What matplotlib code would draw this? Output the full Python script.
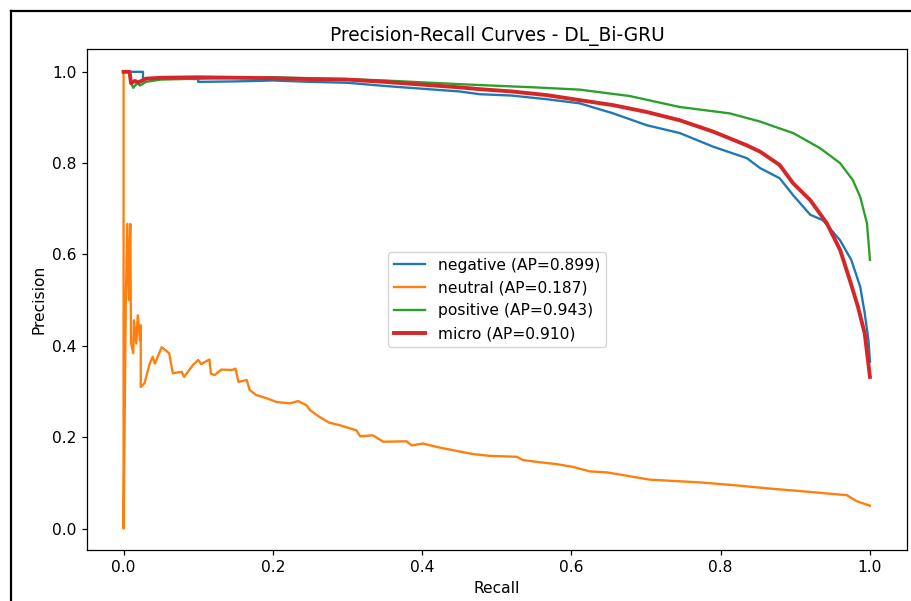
import matplotlib
matplotlib.use("Agg")
import matplotlib.pyplot as plt
from matplotlib.lines import Line2D

# Precision-recall points per class (recall, precision)
neg_recall = [0.0, 0.026, 0.026, 0.05, 0.10, 0.10, 0.15, 0.20, 0.25, 0.30, 0.35, 0.40,
              0.45, 0.477, 0.52, 0.567, 0.611, 0.656, 0.701, 0.745, 0.790, 0.835,
              0.853, 0.879, 0.897, 0.920, 0.937, 0.960, 0.975, 0.987, 0.993, 0.998, 1.0]
neg_precision = [1.0, 1.0, 0.985, 0.986, 0.984, 0.978, 0.979, 0.981, 0.978, 0.976, 0.969, 0.963,
                 0.957, 0.951, 0.948, 0.940, 0.931, 0.909, 0.883, 0.866, 0.836, 0.811,
                 0.789, 0.767, 0.730, 0.687, 0.675, 0.631, 0.588, 0.529, 0.471, 0.412, 0.365]

neu_recall = [0.0, 0.0, 0.003, 0.005, 0.007, 0.009, 0.010, 0.013, 0.014, 0.017, 0.019, 0.022,
              0.023, 0.023, 0.028, 0.035, 0.039, 0.042, 0.051, 0.061, 0.066, 0.078, 0.081,
              0.093, 0.100, 0.104, 0.115, 0.117, 0.122, 0.131, 0.145, 0.150, 0.154, 0.165,
              0.169, 0.178, 0.192, 0.205, 0.223, 0.234, 0.245, 0.250, 0.262, 0.275, 0.290,
              0.312, 0.317, 0.334, 0.348, 0.379, 0.386, 0.401, 0.424, 0.446, 0.468, 0.491,
              0.527, 0.535, 0.558, 0.580, 0.602, 0.625, 0.647, 0.669, 0.705, 0.772, 0.817,
              0.862, 0.906, 0.969, 0.982, 1.0]
neu_precision = [1.0, 0.0, 0.5, 0.667, 0.5, 0.667, 0.406, 0.384, 0.456, 0.405, 0.467, 0.412,
                 0.445, 0.310, 0.318, 0.361, 0.376, 0.361, 0.397, 0.384, 0.340, 0.343, 0.332,
                 0.358, 0.369, 0.360, 0.370, 0.339, 0.336, 0.348, 0.347, 0.350, 0.321, 0.325,
                 0.303, 0.292, 0.285, 0.277, 0.274, 0.279, 0.270, 0.259, 0.245, 0.232, 0.226,
                 0.215, 0.202, 0.204, 0.190, 0.191, 0.182, 0.186, 0.177, 0.170, 0.163, 0.159,
                 0.157, 0.150, 0.145, 0.141, 0.135, 0.125, 0.123, 0.117, 0.107, 0.101, 0.095,
                 0.088, 0.082, 0.073, 0.060, 0.050]

pos_recall = [0.0, 0.008, 0.010, 0.013, 0.018, 0.022, 0.03, 0.05, 0.10, 0.15, 0.20, 0.25,
              0.30, 0.35, 0.40, 0.45, 0.477, 0.55, 0.611, 0.678, 0.745, 0.812, 0.853,
              0.879, 0.897, 0.933, 0.960, 0.977, 0.987, 0.996, 1.0]
pos_precision = [1.0, 1.0, 0.975, 0.965, 0.975, 0.970, 0.978, 0.983, 0.985, 0.987, 0.988, 0.986,
                 0.984, 0.981, 0.977, 0.973, 0.971, 0.966, 0.961, 0.947, 0.923, 0.909, 0.891,
                 0.876, 0.866, 0.833, 0.800, 0.763, 0.726, 0.668, 0.588]

micro_recall = [0.0, 0.008, 0.010, 0.015, 0.020, 0.03, 0.05, 0.10, 0.15, 0.20, 0.25, 0.30,
                0.35, 0.40, 0.45, 0.477, 0.52, 0.567, 0.611, 0.656, 0.701, 0.745, 0.790,
                0.835, 0.853, 0.879, 0.897, 0.920, 0.942, 0.960, 0.973, 0.984, 0.993, 1.0]
micro_precision = [1.0, 1.0, 0.975, 0.980, 0.977, 0.985, 0.987, 0.988, 0.987, 0.986, 0.984, 0.983,
                   0.978, 0.972, 0.966, 0.962, 0.957, 0.949, 0.938, 0.927, 0.912, 0.894, 0.869,
                   0.839, 0.825, 0.796, 0.756, 0.719, 0.669, 0.610, 0.544, 0.485, 0.427, 0.332]

labels = ["negative", "neutral", "positive", "micro"]
ap_scores = [0.899, 0.187, 0.943, 0.910]

s = 1.12
plt.rcParams.update({
    "font.size": 10 * s,
    "axes.titlesize": 12 * s,
    "xtick.major.size": 3.5 * s,
    "ytick.major.size": 3.5 * s,
    "xtick.major.width": 0.8 * s,
    "ytick.major.width": 0.8 * s,
    "axes.linewidth": 0.8 * s,
})

fig = plt.figure(figsize=(9.12, 6.01), dpi=100)
ax = fig.add_axes([0.0954, 0.0849, 0.8991, 0.8336])

ax.plot(neg_recall, neg_precision, color="#1f77b4", lw=1.5 * s,
        label=f"{labels[0]} (AP={ap_scores[0]:.3f})")
ax.plot(neu_recall, neu_precision, color="#ff7f0e", lw=1.5 * s,
        label=f"{labels[1]} (AP={ap_scores[1]:.3f})")
ax.plot(pos_recall, pos_precision, color="#2ca02c", lw=1.5 * s,
        label=f"{labels[2]} (AP={ap_scores[2]:.3f})")
ax.plot(micro_recall, micro_precision, color="#d62728", lw=2.5 * s,
        label=f"{labels[3]} (AP={ap_scores[3]:.3f})")

ax.set_xlim(-0.049, 1.0496)
ax.set_ylim(-0.047, 1.05)
ax.set_xlabel("Recall")
ax.set_ylabel("Precision")
ax.set_title("Precision-Recall Curves - DL_Bi-GRU")
ax.legend(loc="center")

# Black frame along the top and left edges
fig.add_artist(Line2D([11 / 912, 11 / 912], [0, 1 - 11 / 601], transform=fig.transFigure,
                      color="black", lw=1.6))
fig.add_artist(Line2D([11 / 912, 1], [1 - 11 / 601, 1 - 11 / 601], transform=fig.transFigure,
                      color="black", lw=1.6))

fig.savefig("out.png", dpi=100)
